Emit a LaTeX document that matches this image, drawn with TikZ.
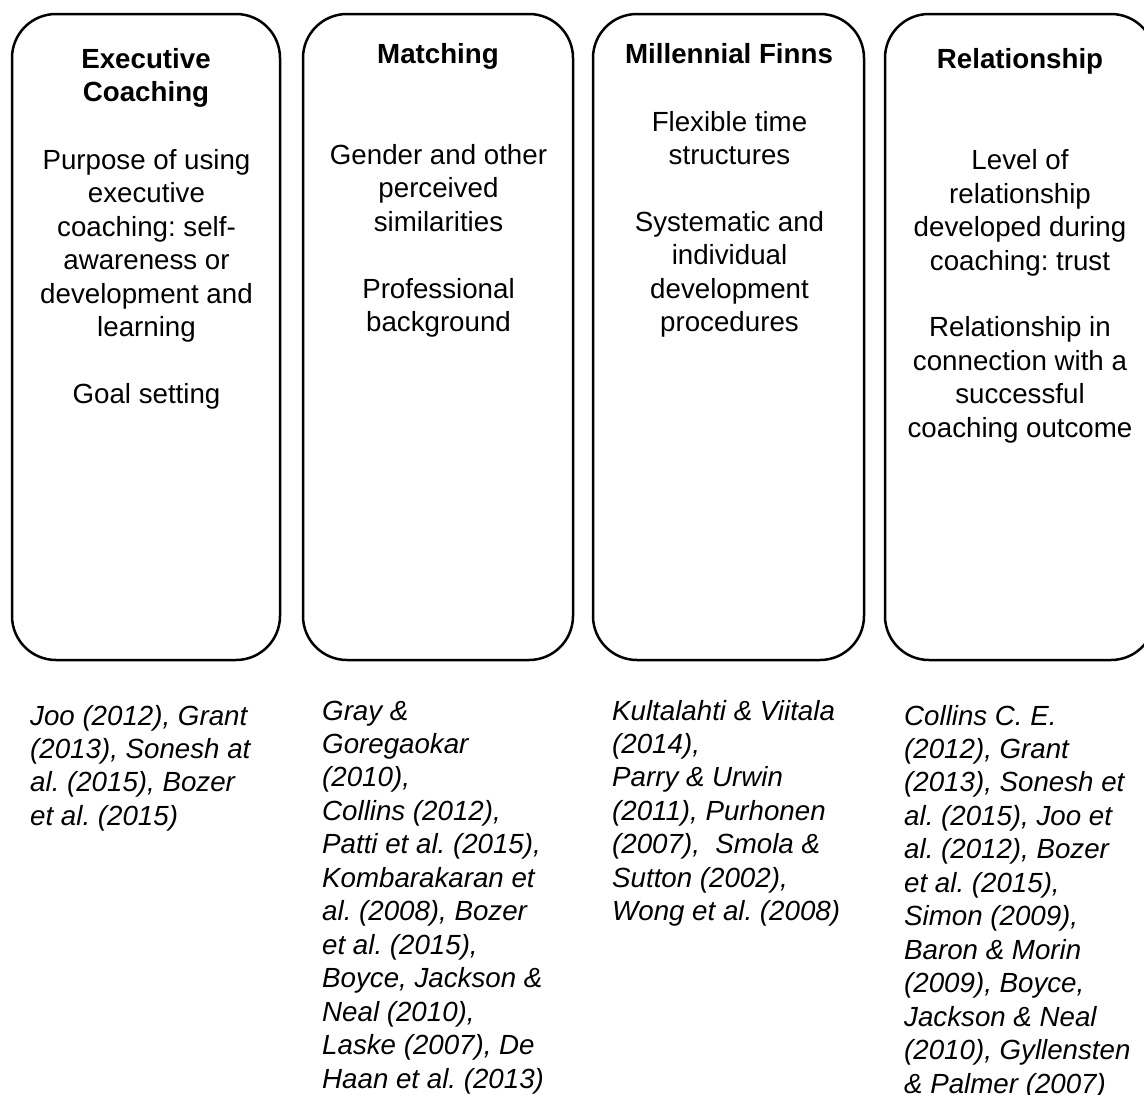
\documentclass[tikz,border=0pt]{standalone}
\usepackage{fontspec}
\setmainfont{Liberation Sans}
\frenchspacing
\begin{document}
\begin{tikzpicture}[x=1pt,y=-1pt,
  colbox/.style={draw=black,line width=2.5pt,rounded corners=44pt,inner sep=0pt},
  headtext/.style={anchor=base,align=center,inner sep=0pt,font=\fontsize{27.7pt}{33.45pt}\selectfont\bfseries},
  bodytext/.style={anchor=base,align=center,inner sep=0pt,font=\fontsize{27.7pt}{33.45pt}\selectfont},
  reftext/.style={anchor=base west,align=left,inner sep=0pt,font=\fontsize{27.7pt}{33.45pt}\selectfont\itshape}]
\useasboundingbox (0,0) rectangle (1144,1095);
\clip (0,0) rectangle (1144,1095);
\fill[white] (0,0) rectangle (1144,1095);

% the four theme columns
\node[colbox,minimum width=268pt,minimum height=646pt] (exec) at (146,337) {};
\node[colbox,minimum width=270pt,minimum height=646pt] (match) at (438,337) {};
\node[colbox,minimum width=271pt,minimum height=646pt] (finns) at (728.5,337) {};
\node[colbox,minimum width=270pt,minimum height=646pt] (rel) at (1020,337) {};

% column headings (anchored on the baseline of their last line)
\node[headtext] (execT) at (146,101.7) {Executive\\Coaching};
\node[headtext] (matchT) at (438,63.5) {Matching};
\node[headtext] (finnsT) at (729,63.5) {Millennial Finns};
\node[headtext] (relT) at (1020,68.5) {Relationship};

% column contents
\node[bodytext] (execB) at (146.5,403.6) {Purpose of using\\executive\\coaching: self-\\awareness or\\development and\\learning\\[33.45pt]Goal setting};
\node[bodytext] (matchB) at (438.5,331.7) {Gender and other\\perceived\\similarities\\[33.45pt]Professional\\background};
\node[bodytext] (finnsB) at (729.5,331.8) {Flexible time\\structures\\[33.45pt]Systematic and\\individual\\development\\procedures};
\node[bodytext] (relB) at (1020,437.3) {Level of\\relationship\\developed during\\coaching: trust\\[33.45pt]Relationship in\\connection with a\\successful\\coaching outcome};

% supporting literature
\node[reftext] (execR) at (30,825.4) {Joo (2012), Grant\\(2013), Sonesh at\\al. (2015), Bozer\\et al. (2015)};
\node[reftext] (matchR) at (322,1088) {Gray \&\\Goregaokar\\(2010),\\Collins (2012),\\Patti et al. (2015),\\Kombarakaran et\\al. (2008), Bozer\\et al. (2015),\\Boyce, Jackson \&\\Neal (2010),\\Laske (2007), De\\Haan et al. (2013)};
\node[reftext] (finnsR) at (612,920.7) {Kultalahti \& Viitala\\(2014),\\Parry \& Urwin\\(2011), Purhonen\\(2007),\ \ Smola \&\\Sutton (2002),\\Wong et al. (2008)};
\node[reftext] (relR) at (904,1093) {Collins C. E.\\(2012), Grant\\(2013), Sonesh et\\al. (2015), Joo et\\al. (2012), Bozer\\et al. (2015),\\Simon (2009),\\Baron \& Morin\\(2009), Boyce,\\Jackson \& Neal\\(2010), Gyllensten\\\& Palmer (2007)};
\end{tikzpicture}
\end{document}
